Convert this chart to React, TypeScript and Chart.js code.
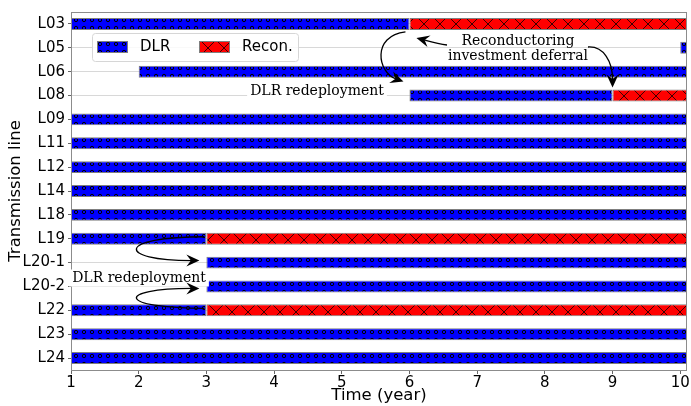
import React, { useEffect, useRef } from "react";
import { Chart, registerables } from "chart.js";

Chart.register(...registerables);

const lines = ["L03", "L05", "L06", "L08", "L09", "L11", "L12", "L14", "L18", "L19", "L20-1", "L20-2", "L22", "L23", "L24"];
const dlrStart: (number | null)[] = [1, 10, 2, 6, 1, 1, 1, 1, 1, 1, 3, 3, 1, 1, 1];
const dlrEnd: (number | null)[] = [6, 10.1, 10.1, 9, 10.1, 10.1, 10.1, 10.1, 10.1, 3, 10.1, 10.1, 3, 10.1, 10.1];
const reconStart: (number | null)[] = [6, null, null, 9, null, null, null, null, null, 3, null, null, 3, null, null];
const reconEnd: (number | null)[] = [10.1, null, null, 10.1, null, null, null, null, null, 10.1, null, null, 10.1, null, null];
const xTicks = [1, 2, 3, 4, 5, 6, 7, 8, 9, 10];
const xMin = 1;
const xMax = 10.1;
const seriesNames = ["DLR", "Recon."];

const SANS = "'DejaVu Sans', sans-serif";
const SERIF = "'DejaVu Serif', serif";

function makeBluePattern(ctx: CanvasRenderingContext2D) {
  const c = document.createElement("canvas");
  c.width = 8;
  c.height = 8;
  const g = c.getContext("2d")!;
  g.fillStyle = "#0000ff";
  g.fillRect(0, 0, 8, 8);
  g.strokeStyle = "#000";
  g.lineWidth = 1;
  g.beginPath();
  g.arc(4, 4, 1.7, 0, Math.PI * 2);
  g.stroke();
  return ctx.createPattern(c, "repeat")!;
}

function makeRedPattern(ctx: CanvasRenderingContext2D) {
  const c = document.createElement("canvas");
  c.width = 16;
  c.height = 16;
  const g = c.getContext("2d")!;
  g.fillStyle = "#ff0000";
  g.fillRect(0, 0, 16, 16);
  g.strokeStyle = "rgba(50,0,0,0.95)";
  g.lineWidth = 1;
  g.beginPath();
  g.moveTo(0, 0);
  g.lineTo(16, 16);
  g.moveTo(16, 0);
  g.lineTo(0, 16);
  g.stroke();
  return ctx.createPattern(c, "repeat")!;
}

function arrowHead(ctx: CanvasRenderingContext2D, tx: number, ty: number, fx: number, fy: number, len = 13, half = 6) {
  const a = Math.atan2(ty - fy, tx - fx);
  const cos = Math.cos(a), sin = Math.sin(a);
  const bx = tx - len * cos, by = ty - len * sin;
  const nx = tx - len * 0.65 * cos, ny = ty - len * 0.65 * sin;
  ctx.beginPath();
  ctx.moveTo(tx, ty);
  ctx.lineTo(bx - half * sin, by + half * cos);
  ctx.lineTo(nx, ny);
  ctx.lineTo(bx + half * sin, by - half * cos);
  ctx.closePath();
  ctx.fill();
}

function curveArrow(ctx: CanvasRenderingContext2D, p0: number[], c1: number[], c2: number[], p3: number[]) {
  ctx.save();
  ctx.strokeStyle = "#000";
  ctx.fillStyle = "#000";
  ctx.lineWidth = 1.3;
  const a = Math.atan2(p3[1] - c2[1], p3[0] - c2[0]);
  const ex = p3[0] - 8 * Math.cos(a), ey = p3[1] - 8 * Math.sin(a);
  ctx.beginPath();
  ctx.moveTo(p0[0], p0[1]);
  ctx.bezierCurveTo(c1[0], c1[1], c2[0], c2[1], ex, ey);
  ctx.stroke();
  arrowHead(ctx, p3[0], p3[1], c2[0], c2[1]);
  ctx.restore();
}

function boxedText(ctx: CanvasRenderingContext2D, textLines: string[], cx: number, cy: number, lh: number, box: boolean) {
  ctx.save();
  ctx.font = `14px ${SERIF}`;
  ctx.textAlign = "center";
  ctx.textBaseline = "middle";
  const w = Math.max(...textLines.map((t) => ctx.measureText(t).width));
  const h = lh * textLines.length;
  if (box) {
    ctx.fillStyle = "#fff";
    ctx.fillRect(cx - w / 2 - 3, cy - h / 2 - 1, w + 6, h + 2);
  }
  ctx.fillStyle = "#000";
  textLines.forEach((t, i) => {
    ctx.fillText(t, cx, cy - h / 2 + lh * (i + 0.5));
  });
  ctx.restore();
}

export default function App() {
  const ref = useRef<HTMLCanvasElement>(null);

  useEffect(() => {
    document.body.style.margin = "0";
    const canvas = ref.current!;
    const ctx = canvas.getContext("2d")!;
    const blue = makeBluePattern(ctx);
    const red = makeRedPattern(ctx);

    const dlrData = lines.map((_, i) => (dlrStart[i] === null ? null : [dlrStart[i], dlrEnd[i]]));
    const reconData = lines.map((_, i) => (reconStart[i] === null ? null : [reconStart[i], reconEnd[i]]));

    const overlay = {
      id: "overlay",
      afterDraw(chart: any) {
        const c: CanvasRenderingContext2D = chart.ctx;
        const ca = chart.chartArea;
        const xs = chart.scales.x;
        const ys = chart.scales.y;
        const X = (v: number) => xs.getPixelForValue(v);
        const Y = (i: number) => ys.getPixelForValue(i);

        // frame
        c.save();
        c.strokeStyle = "#8c8c8c";
        c.lineWidth = 1;
        c.strokeRect(Math.round(ca.left) + 0.5, Math.round(ca.top) + 0.5, Math.round(ca.right - ca.left) - 1, Math.round(ca.bottom - ca.top));
        c.restore();

        // legend
        c.save();
        const lx = 92, ly = 33, lw = 206, lh = 28;
        c.fillStyle = "rgba(255,255,255,0.85)";
        c.strokeStyle = "#d6d6d6";
        c.lineWidth = 1;
        c.beginPath();
        (c as any).roundRect(lx + 0.5, ly + 0.5, lw, lh, 3);
        c.fill();
        c.stroke();
        const sw = [[97, blue], [199, red]] as any[];
        sw.forEach(([sx, pat], k) => {
          c.fillStyle = pat;
          c.fillRect(sx, 41, 30, 11);
          c.strokeStyle = "#7f7f7f";
          c.strokeRect(sx + 0.5, 41.5, 30, 11);
          c.fillStyle = "#000";
          c.font = `15px ${SANS}`;
          c.textBaseline = "middle";
          c.textAlign = "left";
          c.fillText(seriesNames[k], sx + 43, 47);
        });
        c.restore();

        boxedText(c, ["DLR redeployment"], 317, 91, 15, true);
        boxedText(c, ["Reconductoring", "investment deferral"], 518, 49, 15, false);

        const y03 = Y(0), y08 = Y(3), y19 = Y(9), y201 = Y(10), y202 = Y(11), y22 = Y(12);
        const x6 = X(6), x9 = X(9), x3 = X(3);

        curveArrow(c, [x6 - 4, y03 + 8], [x6 - 38, y03 + 12], [x6 - 32, y08 - 23], [x6 - 6, y08 - 14]);
        curveArrow(c, [447, 45], [437, 44], [428, 41], [x6 + 7, y03 + 14]);
        curveArrow(c, [588, 47], [604, 46], [x9, 62], [x9, y08 - 8]);

        boxedText(c, ["DLR redeployment"], 139, 278, 15, true);
        curveArrow(c, [x3 - 2, y19 - 2], [116, y19 - 2], [116, y201 - 2], [x3 - 7, y201 - 2]);
        curveArrow(c, [x3 - 2, y22 - 2], [116, y22 - 2], [116, y202 + 2], [x3 - 7, y202 + 2]);
      },
    };

    const chart = new Chart(canvas, {
      type: "bar",
      data: {
        labels: lines,
        datasets: [
          {
            label: seriesNames[0],
            data: dlrData as any,
            backgroundColor: blue as any,
            borderColor: "#7f7f7f",
            borderWidth: 1,
            borderSkipped: false,
            grouped: false,
            barPercentage: 0.5,
            categoryPercentage: 1,
          },
          {
            label: seriesNames[1],
            data: reconData as any,
            backgroundColor: red as any,
            borderColor: "#7f7f7f",
            borderWidth: 1,
            borderSkipped: false,
            grouped: false,
            barPercentage: 0.5,
            categoryPercentage: 1,
          },
        ],
      },
      options: {
        indexAxis: "y",
        responsive: false,
        animation: false,
        layout: { padding: { top: 12, right: 4, left: 0, bottom: 0 } },
        plugins: { legend: { display: false }, tooltip: { enabled: false } },
        scales: {
          x: {
            type: "linear",
            min: xMin,
            max: xMax,
            afterBuildTicks: (s: any) => {
              s.ticks = xTicks.map((v) => ({ value: v }));
            },
            afterFit: (s: any) => {
              s.height = 36;
            },
            ticks: { font: { family: SANS, size: 15 }, color: "#000", padding: 0, maxRotation: 0 },
            grid: { drawOnChartArea: false, tickLength: 4, color: "#666", tickColor: "#666" },
            border: { display: false },
            title: { display: true, text: "Time (year)", font: { family: SANS, size: 16.5 }, color: "#000", padding: { top: 2, bottom: 0 } },
          },
          y: {
            type: "category",
            offset: true,
            z: 1,
            afterFit: (s: any) => {
              s.width = 71;
            },
            ticks: { font: { family: SANS, size: 15 }, color: "#000", padding: 3 },
            grid: { offset: false, color: "rgba(190,190,190,0.6)", tickColor: "#666", tickLength: 3 },
            border: { display: false },
            title: { display: true, text: "Transmission line", font: { family: SANS, size: 16.5 }, color: "#000", padding: { top: 6, bottom: 2 } },
          },
        },
      },
      plugins: [overlay],
    });
    return () => chart.destroy();
  }, []);

  return <canvas ref={ref} width={691} height={406} style={{ display: "block" }} />;
}
